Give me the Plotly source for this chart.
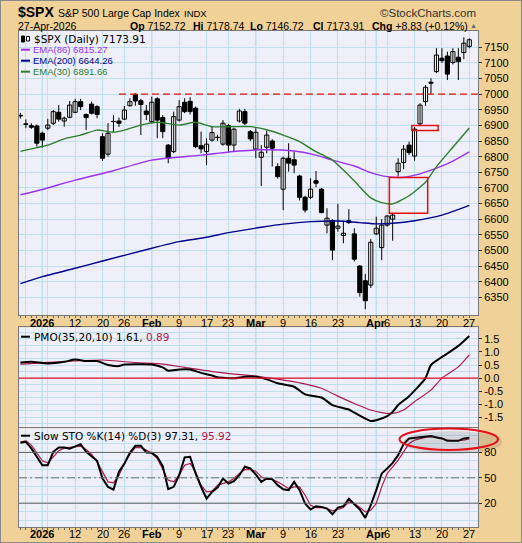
import plotly.graph_objects as go

W, H = 522, 543

# ---------------- data ----------------
dates = ["Dec 26", "Dec 29", "Dec 30", "Dec 31", "Jan 2", "Jan 5", "Jan 6", "Jan 7", "Jan 8", "Jan 9",
         "Jan 12", "Jan 13", "Jan 14", "Jan 15", "Jan 16", "Jan 20", "Jan 21", "Jan 22", "Jan 23",
         "Jan 26", "Jan 27", "Jan 28", "Jan 29", "Jan 30", "Feb 2", "Feb 3", "Feb 4", "Feb 5", "Feb 6",
         "Feb 9", "Feb 10", "Feb 11", "Feb 12", "Feb 13", "Feb 17", "Feb 18", "Feb 19", "Feb 20",
         "Feb 23", "Feb 24", "Feb 25", "Feb 26", "Feb 27", "Mar 2", "Mar 3", "Mar 4", "Mar 5", "Mar 6",
         "Mar 9", "Mar 10", "Mar 11", "Mar 12", "Mar 13", "Mar 16", "Mar 17", "Mar 18", "Mar 19",
         "Mar 20", "Mar 23", "Mar 24", "Mar 25", "Mar 26", "Mar 27", "Mar 30", "Mar 31", "Apr 1",
         "Apr 2", "Apr 6", "Apr 7", "Apr 8", "Apr 9", "Apr 10", "Apr 13", "Apr 14", "Apr 15", "Apr 16",
         "Apr 17", "Apr 20", "Apr 21", "Apr 22", "Apr 23", "Apr 24", "Apr 27"]
day_idx = list(range(len(dates)))

open_ = [6932, 6905, 6899, 6898, 6875, 6891, 6907, 6942, 6914, 6926,
         6942, 6976, 6935, 6968, 6960, 6864, 6808, 6912, 6914,
         6920, 6963, 6999, 6979, 6946, 6912, 6985, 6925, 6837, 6816,
         6917, 6974, 6977, 6955, 6835, 6816, 6853, 6861, 6840,
         6899, 6837, 6914, 6944, 6880, 6824, 6798, 6830, 6850, 6768,
         6696, 6795, 6790, 6738, 6670, 6670, 6723, 6696, 6581,
         6595, 6571, 6548, 6595, 6553, 6450, 6403, 6389, 6553,
         6509, 6581, 6600, 6752, 6781, 6837, 6802, 6905, 6976, 7038,
         7072, 7115, 7122, 7101, 7118, 7133, 7152.72]
high = [6940, 6919, 6907, 6903, 6880, 6921, 6949, 6965, 6928, 6978,
        6985, 6985, 6938, 6976, 6965, 6875, 6907, 6933, 6925,
        6962, 6987, 7003, 6985, 6965, 6992, 6990, 6933, 6840, 6944,
        6981, 6987, 6990, 6960, 6880, 6859, 6896, 6870, 6917,
        6905, 6893, 6953, 6953, 6885, 6891, 6837, 6883, 6856, 6779,
        6800, 6843, 6816, 6742, 6675, 6731, 6754, 6700, 6635,
        6600, 6649, 6595, 6632, 6571, 6453, 6425, 6536, 6608,
        6600, 6613, 6619, 6795, 6837, 6848, 6895, 6971, 7029, 7051,
        7147, 7147, 7136, 7147, 7147, 7182, 7178.74]
low = [6922, 6891, 6889, 6832, 6829, 6885, 6901, 6912, 6896, 6923,
       6939, 6949, 6885, 6935, 6923, 6786, 6800, 6880, 6895,
       6917, 6960, 6963, 6869, 6917, 6906, 6859, 6859, 6779, 6811,
       6912, 6939, 6935, 6827, 6811, 6773, 6848, 6850, 6835,
       6816, 6816, 6909, 6901, 6850, 6795, 6706, 6811, 6768, 6730,
       6629, 6752, 6747, 6660, 6621, 6665, 6702, 6619, 6555,
       6469, 6560, 6523, 6585, 6465, 6352, 6312, 6380, 6549,
       6469, 6576, 6531, 6736, 6760, 6805, 6787, 6900, 6962, 7001,
       7067, 7100, 7045, 7095, 7045, 7112, 7146.72]
close = [6930, 6903, 6894, 6843, 6853, 6901, 6944, 6920, 6923, 6965,
         6976, 6960, 6925, 6939, 6935, 6795, 6875, 6913, 6907,
         6949, 6976, 6978, 6967, 6935, 6974, 6917, 6880, 6795, 6928,
         6960, 6944, 6944, 6832, 6825, 6840, 6877, 6862, 6907,
         6837, 6888, 6946, 6907, 6857, 6878, 6814, 6869, 6827, 6736,
         6795, 6779, 6773, 6670, 6629, 6696, 6715, 6621, 6603,
         6501, 6578, 6555, 6589, 6472, 6365, 6339, 6526, 6571,
         6581, 6610, 6613, 6779, 6824, 6813, 6888, 6965, 7022, 7035,
         7125, 7107, 7064, 7136, 7104, 7163, 7173.91]
change_pts, change_pct = 8.83, 0.12

ema86_idx = [0, 4, 10, 17, 24, 33, 40, 44, 50, 54, 57, 61, 64, 67, 70, 73, 76, 79, 82]
ema86_val = [6678, 6695, 6725, 6755, 6789, 6805, 6818, 6822, 6818, 6805, 6789, 6770, 6749,
             6736, 6734, 6745, 6763, 6786, 6815.27]
ema200_idx = [0, 4, 10, 15, 24, 29, 34, 38, 44, 48, 53, 58, 62, 65, 68, 72, 77, 82]
ema200_val = [6394, 6416, 6443, 6466, 6507, 6528, 6542, 6557, 6574, 6584, 6592, 6594, 6589,
              6585, 6587, 6595, 6613, 6644.26]
ema30_idx = [0, 3, 5, 8, 11, 14, 16, 17, 19, 22, 25, 29, 32, 35, 39, 42, 45, 48, 51, 54, 57,
             59, 61, 64, 66, 68, 71, 74, 76, 79, 82]
ema30_val = [6817, 6829, 6837, 6857, 6869, 6885, 6880, 6878, 6885, 6901, 6910, 6901, 6910, 6896,
             6896, 6896, 6886, 6869, 6848, 6816, 6789, 6757, 6722, 6668, 6653, 6649, 6675, 6718,
             6768, 6830, 6891.66]

resistance_level = 7000
resistance_start = 18
# highlight boxes: (first idx, last idx, low price, high price)
highlight_boxes = [(67.4, 74.4, 6619, 6733), (71.5, 76.3, 6884, 6900)]

pmo_idx = [0, 2, 5, 8, 10, 12, 14, 16, 18, 19, 22, 24, 26, 27, 29, 31, 33, 35, 36, 39, 41, 43,
           45, 47, 50, 52, 55, 57, 60, 61, 64, 65, 67, 68, 69, 71, 74, 75, 78, 80, 82]
pmo_val = [0.60, 0.62, 0.56, 0.62, 0.71, 0.65, 0.65, 0.50, 0.46, 0.52, 0.53, 0.52, 0.41, 0.28,
           0.33, 0.33, 0.20, 0.10, 0.03, -0.01, 0.05, 0.05, -0.05, -0.20, -0.33, -0.62, -0.74,
           -1.03, -1.20, -1.32, -1.64, -1.61, -1.45, -1.29, -1.03, -0.69, 0.0, 0.50, 0.94, 1.23, 1.61]
pmo_sig_idx = [0, 5, 15, 21, 26, 30, 37, 43, 46, 51, 55, 58, 61, 64, 66, 68, 70, 72, 75, 77, 80, 82]
pmo_sig_val = [0.53, 0.60, 0.69, 0.59, 0.53, 0.41, 0.20, 0.08, -0.01, -0.18, -0.39, -0.69, -0.97,
               -1.22, -1.32, -1.35, -1.22, -0.90, -0.46, 0.0, 0.43, 0.89]

sto_k = [91.4, 92.6, 84.7, 74.8, 64.9, 64.9, 80.7, 85.9, 85.9, 84.3, 87.4, 89.8, 80.7, 75.6,
         70.1, 49.2, 39.3, 36.1, 57.1, 66.9, 79.5, 87.8, 87.8, 79.9, 79.5, 74.8, 63.8, 36.5,
         39.3, 53.1, 74.0, 74.8, 55.1, 39.3, 25.5, 33.4, 38.5, 49.2, 43.2, 46.0, 53.1, 63.0,
         61.0, 53.9, 45.2, 49.2, 48.4, 41.3, 36.5, 35.4, 45.2, 35.4, 19.6, 12.5, 16.4, 15.6,
         13.7, 6.9, 14.8, 16.4, 25.1, 18.8, 12.5, 2.6, 17.6, 35.4, 55.1, 61.0, 67.7, 76.8,
         89.8, 96.5, 97.3, 97.7, 99.3, 99.3, 97.7, 96.5, 93.7, 93.7, 93.7, 96.5, 97.31]
sto_d = [92.6, 93.7, 88.6, 78.8, 70.1, 67.7, 74.8, 81.9, 85.1, 85.9, 86.6, 87.4, 83.5, 77.6,
         68.9, 57.1, 45.2, 44.0, 53.1, 66.9, 77.9, 85.9, 85.5, 82.7, 78.8, 72.8, 59.0, 47.2,
         45.2, 53.1, 64.9, 66.9, 57.1, 41.3, 33.4, 34.2, 41.3, 43.2, 45.2, 49.2, 55.1, 59.8,
         59.5, 57.8, 51.1, 48.0, 48.0, 45.2, 41.3, 37.3, 39.3, 39.3, 29.4, 17.6, 14.8, 14.8,
         13.7, 10.9, 12.5, 14.8, 21.5, 19.6, 14.8, 9.7, 11.7, 19.6, 39.3, 55.1, 63.0, 70.9,
         80.7, 90.6, 94.5, 96.5, 97.7, 98.5, 98.1, 96.5, 94.5, 93.7, 93.7, 94.5, 95.92]

# x-axis grid / labels
grid_idx = [1, 4, 5, 10, 15, 19, 24, 29, 34, 38, 43, 48, 53, 58, 63, 65, 67, 72, 77, 82]
grid_txt = ["", "<b>2026</b>", "", "12", "20", "26", "<b>Feb</b>", "9", "17", "23", "<b>Mar</b>",
            "9", "16", "23", "", "<b>Apr</b>", "6", "13", "20", "27"]
month_idx = [4, 24, 43, 65]

price_ticks = list(range(6350, 7151, 50))
pmo_ticks = [-1.5, -1.0, -0.5, 0.0, 0.5, 1.0, 1.5]
sto_ticks = [20, 50, 80]

# ---------------- styling ----------------
TAN = "#F0D198"
PLOT_BG = "#EEEFF8"
GRID = "#BEE0EC"
MONTH_GRID = "#93C9DE"
BORDER = "#7A7A7A"
PURPLE = "#9933EE"
NAVY = "#00008B"
GREEN = "#2E7D2E"
MAROON = "#B01850"
ARIAL = "Liberation Sans, Arial"
TICKFONT = dict(family=ARIAL, size=11, color="black")
LEGFONT = "DejaVu Sans, Verdana"

def px_x(p):
    return p / W

def px_y(p):
    return 1 - p / H

X_DOM = [px_x(19), px_x(478)]
X_RANGE = [-0.26, 83.59]
MAIN_DOM = [px_y(315), px_y(31)]
PMO_DOM = [px_y(427.3), px_y(327.3)]
STO_DOM = [px_y(527.3), px_y(428.3)]

fig = go.Figure()

# candle wicks
wx, wy = [], []
for i, h, l in zip(day_idx, high, low):
    wx += [i, i, None]
    wy += [l, h, None]
fig.add_trace(go.Scatter(x=wx, y=wy, mode="lines", line=dict(color="black", width=1),
                         xaxis="x", yaxis="y", showlegend=False, hoverinfo="skip"))
# candle bodies (hollow when close > open)
for up in (True, False):
    sel = [i for i in day_idx if (close[i] >= open_[i]) == up]
    fig.add_trace(go.Bar(
        x=sel, base=[min(open_[i], close[i]) for i in sel],
        y=[max(abs(close[i] - open_[i]), 0.8) for i in sel], width=0.76, opacity=1,
        marker=dict(color="#FFFFFF" if up else "#000000", opacity=1,
                    line=dict(color="#000000", width=1)),
        xaxis="x", yaxis="y", showlegend=False, hoverinfo="skip"))

for xi, yv, col in [(ema86_idx, ema86_val, PURPLE), (ema200_idx, ema200_val, NAVY),
                    (ema30_idx, ema30_val, GREEN)]:
    fig.add_trace(go.Scatter(x=xi, y=yv, mode="lines",
                             line=dict(color=col, width=1.4, shape="spline", smoothing=0.6),
                             xaxis="x", yaxis="y", showlegend=False, hoverinfo="skip"))

fig.add_trace(go.Scatter(x=pmo_sig_idx, y=pmo_sig_val, mode="lines",
                         line=dict(color=MAROON, width=1.2, shape="spline", smoothing=0.6),
                         xaxis="x2", yaxis="y2", showlegend=False, hoverinfo="skip"))
fig.add_trace(go.Scatter(x=pmo_idx, y=pmo_val, mode="lines",
                         line=dict(color="black", width=2, shape="spline", smoothing=0.6),
                         xaxis="x2", yaxis="y2", showlegend=False, hoverinfo="skip"))

fig.add_trace(go.Scatter(x=day_idx, y=sto_d, mode="lines", line=dict(color=MAROON, width=1.2),
                         xaxis="x3", yaxis="y3", showlegend=False, hoverinfo="skip"))
fig.add_trace(go.Scatter(x=day_idx, y=sto_k, mode="lines", line=dict(color="black", width=2),
                         xaxis="x3", yaxis="y3", showlegend=False, hoverinfo="skip"))

shapes = []
for ax, yax in [("x", "y"), ("x2", "y2"), ("x3", "y3")]:
    for m in month_idx:
        shapes.append(dict(type="line", xref=ax, yref=f"{yax} domain", x0=m, x1=m, y0=0, y1=1,
                           line=dict(color=MONTH_GRID, width=1), layer="below"))
shapes.append(dict(type="line", xref="x", yref="y", x0=resistance_start, x1=X_RANGE[1],
                   y0=resistance_level, y1=resistance_level,
                   line=dict(color="#E01010", width=1.3, dash="7px,4px")))
for (a, b, lo, hi) in highlight_boxes:
    shapes.append(dict(type="rect", xref="x", yref="y", x0=a, x1=b, y0=lo, y1=hi,
                       line=dict(color="#E01010", width=1.5)))
for lvl in (20, 80):
    shapes.append(dict(type="line", xref="x3 domain", yref="y3", x0=0, x1=1, y0=lvl, y1=lvl,
                       line=dict(color="#606060", width=1)))
shapes.append(dict(type="line", xref="x3 domain", yref="y3", x0=0, x1=1, y0=50, y1=50,
                   line=dict(color="#707070", width=1, dash="8px,3px,2px,3px")))
shapes.append(dict(type="line", xref="x2 domain", yref="y2", x0=0, x1=1, y0=0, y1=0,
                   line=dict(color="#E0102A", width=1.2)))
# ellipse highlight on STO (with soft shadow)
shapes.append(dict(type="circle", xref="paper", yref="paper", x0=px_x(403), x1=px_x(502),
                   y0=px_y(454), y1=px_y(431), line=dict(width=0), fillcolor="rgba(80,80,80,0.16)"))
shapes.append(dict(type="circle", xref="paper", yref="paper", x0=px_x(399.5), x1=px_x(498),
                   y0=px_y(450), y1=px_y(428.5), line=dict(color="#E8101A", width=2)))
# legend swatches
for yy, col in [(49.7, PURPLE), (60.7, NAVY), (71.7, GREEN), (336.7, "black"), (435.7, "black")]:
    shapes.append(dict(type="line", xref="paper", yref="paper", x0=px_x(21), x1=px_x(30),
                       y0=px_y(yy), y1=px_y(yy), line=dict(color=col, width=2)))
# small candle icon in the price legend
shapes.append(dict(type="rect", xref="paper", yref="paper", x0=px_x(21.5), x1=px_x(24.5),
                   y0=px_y(42), y1=px_y(36), line=dict(color="black", width=1), fillcolor="black"))
shapes.append(dict(type="rect", xref="paper", yref="paper", x0=px_x(26.5), x1=px_x(29.5),
                   y0=px_y(41), y1=px_y(36.5), line=dict(color="black", width=1), fillcolor="white"))
# outer border
shapes.append(dict(type="rect", xref="paper", yref="paper", x0=0, x1=1, y0=0, y1=1,
                   line=dict(color="#8A8A8A", width=2)))

ann = []
def text(x, y, s, size=11, color="black", family=ARIAL, anchor="left"):
    ann.append(dict(x=px_x(x), y=px_y(y), xref="paper", yref="paper", text=s, showarrow=False,
                    xanchor=anchor, yanchor="middle", font=dict(family=family, size=size, color=color)))

text(16, 12.5, "<b>$SPX</b>", size=14)
text(56, 13, "S&P 500 Large Cap Index", size=10.5)
text(182, 13.5, "INDX", size=9.5)
text(478, 13, "\u00a9StockCharts.com", size=11.5, color="#333333", anchor="right")
text(16, 25.5, "27-Apr-2026", size=10.5)
text(128, 25.5, f"<b>Op</b> {open_[-1]:.2f}", size=10.5)
text(191, 25.5, f"<b>Hi</b> {high[-1]:.2f}", size=10.5)
text(248, 25.5, f"<b>Lo</b> {low[-1]:.2f}", size=10.5)
text(311, 25.5, f"<b>Cl</b> {close[-1]:.2f}", size=10.5)
text(370, 25.5, f"<b>Chg</b> +{change_pts:.2f} (+{change_pct:.2f}%)", size=10.5)
text(479, 26, "\u25b2", size=7, color="#666666", anchor="right")

text(32, 39, f"$SPX (Daily) {close[-1]:.2f}", size=10.5, family=LEGFONT)
text(31, 49.7, f"EMA(86) {ema86_val[-1]:.2f}", size=9.5, color=PURPLE)
text(31, 60.7, f"EMA(200) {ema200_val[-1]:.2f}", size=9.5, color=NAVY)
text(31, 71.7, f"EMA(30) {ema30_val[-1]:.2f}", size=9.5, color=GREEN)
text(32, 337, f"PMO(35,20,10) {pmo_val[-1]:.2f}, <span style='color:{MAROON}'>{pmo_sig_val[-1]:.2f}</span>",
     size=10.5, family=LEGFONT)
text(32, 436, f"Slow STO %K(14) %D(3) {sto_k[-1]:.2f}, <span style='color:{MAROON}'>{sto_d[-1]:.2f}</span>",
     size=10.5, family=LEGFONT)

# date labels under the price panel and under the STO panel
for row_y in (322.7, 534.3):
    for gi, gt in zip(grid_idx, grid_txt):
        if gt:
            ann.append(dict(x=gi, y=px_y(row_y), xref="x", yref="paper", text=gt, showarrow=False,
                            xanchor="center", yanchor="middle", font=TICKFONT))

common_x = dict(domain=X_DOM, range=X_RANGE, tickmode="array", tickvals=grid_idx,
                showticklabels=False,
                showgrid=True, gridcolor=GRID, gridwidth=1, zeroline=False, ticks="",
                showline=True, linecolor=BORDER, linewidth=1, mirror=True,
                fixedrange=True)
day_ticks = dict(tickmode="array", tickvals=day_idx, ticks="outside", ticklen=2,
                 tickcolor="#666666", showgrid=False)
common_y = dict(side="right", showgrid=True, gridcolor=GRID, gridwidth=1, zeroline=False,
                ticks="outside", ticklen=3, tickcolor="#333333", showline=True, linecolor=BORDER,
                linewidth=1, mirror=True, tickfont=TICKFONT, fixedrange=True)

fig.update_layout(
    width=W, height=H, margin=dict(l=0, r=0, t=0, b=0),
    paper_bgcolor=TAN, plot_bgcolor=PLOT_BG, showlegend=False, barmode="overlay",
    xaxis=dict(common_x, anchor="y", minor=day_ticks),
    xaxis2=dict(common_x, anchor="y2"),
    xaxis3=dict(common_x, anchor="y3", minor=day_ticks),
    yaxis=dict(common_y, domain=MAIN_DOM, anchor="x", range=[6293.4, 7202], tickmode="array",
               tickvals=price_ticks, ticktext=[str(v) for v in price_ticks]),
    yaxis2=dict(common_y, domain=PMO_DOM, anchor="x2", range=[-1.88, 1.94], tickmode="array",
                tickvals=pmo_ticks, ticktext=[f"{v:.1f}" for v in pmo_ticks],
                minor=dict(dtick=0.25, tick0=0, showgrid=True, gridcolor=GRID, ticks="")),
    yaxis3=dict(common_y, domain=STO_DOM, anchor="x3", range=[-8.5, 108.5], tickmode="array",
                tickvals=sto_ticks, ticktext=[str(v) for v in sto_ticks],
                minor=dict(dtick=10, tick0=0, showgrid=True, gridcolor=GRID, ticks="")),
    shapes=shapes, annotations=ann,
)

# the page's default 8px body margin would shift the figure; remove it
fig.write_html("out.html", config={"staticPlot": True},
               post_script="document.body.style.margin='0px';document.body.style.overflow='hidden';")
